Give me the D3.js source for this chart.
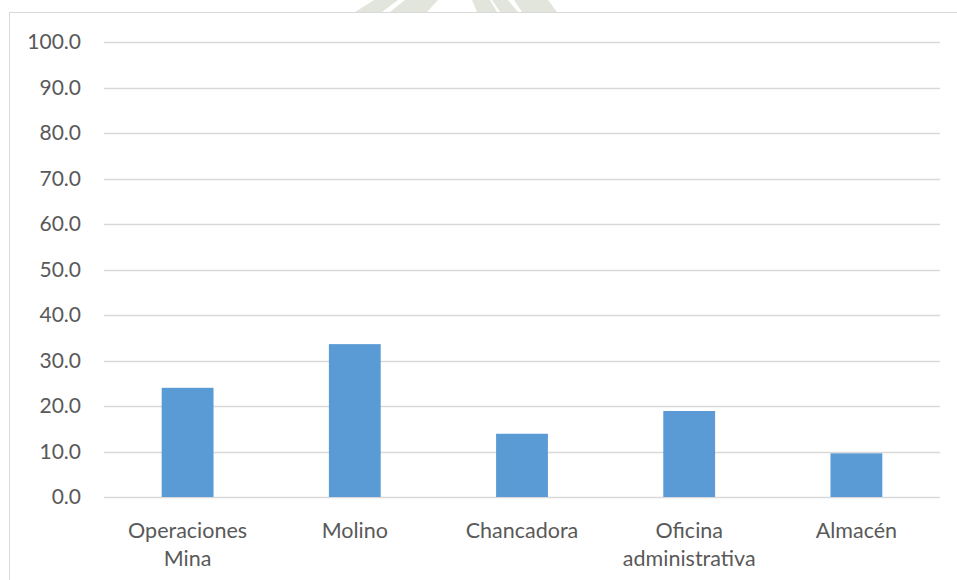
<!DOCTYPE html>
<html>
<head>
<meta charset="utf-8">
<script src="https://cdn.jsdelivr.net/npm/d3@7"></script>
<style>
  html, body { margin: 0; padding: 0; background: #fff; }
  svg { display: block; }
</style>
</head>
<body>
<svg id="chart" width="957" height="580"></svg>
<script>
// Share of incidents by work area (%)
const categories = [["Operaciones", "Mina"], ["Molino"], ["Chancadora"], ["Oficina", "administrativa"], ["Almacén"]];
const values = [24.0, 33.6, 13.9, 18.9, 9.6];
const yTicks = [0, 10, 20, 30, 40, 50, 60, 70, 80, 90, 100];

const svg = d3.select("#chart");
const W = 957, H = 580;
const margin = { left: 104, right: 17, top: 42, bottom: 83 };
const font = "Lato, 'Open Sans', sans-serif";
const textColor = "#595959";

// faint emblem behind the top edge of the frame
const emblem = svg.append("g").attr("fill", "#e2e5dc");
[
  [[355, 12], [382, 12], [398, 0], [374, 0]],
  [[390, 12], [427, 12], [438, 0], [405, 0]],
  [[477, 12], [497, 12], [490, 0], [472, 0]],
  [[500, 12], [518, 12], [508, 0], [492, 0]],
  [[522, 12], [557, 12], [548, 0], [514, 0]]
].forEach(p => emblem.append("polygon").attr("points", p.map(q => q.join(",")).join(" ")));

// chart frame
svg.append("rect")
  .attr("x", 9.5).attr("y", 12.5)
  .attr("width", W).attr("height", H)
  .attr("fill", "#fff")
  .attr("stroke", "#d9d9d9").attr("stroke-width", 1);

const x = d3.scaleBand()
  .domain(d3.range(categories.length))
  .range([margin.left, W - margin.right])
  .paddingInner(0.69).paddingOuter(0.345);

const y = d3.scaleLinear()
  .domain([0, 100])
  .range([H - margin.bottom, margin.top]);

// horizontal gridlines
svg.append("g")
  .selectAll("line")
  .data(yTicks)
  .join("line")
  .attr("x1", margin.left).attr("x2", W - margin.right)
  .attr("y1", d => Math.round(y(d)) + 0.5).attr("y2", d => Math.round(y(d)) + 0.5)
  .attr("stroke", "#d9d9d9").attr("stroke-width", 1.5);

// y axis labels
const yAxis = d3.axisLeft(y).tickValues(yTicks).tickFormat(d3.format(".1f")).tickSize(0).tickPadding(23);
const gy = svg.append("g").attr("transform", `translate(${margin.left},0)`).call(yAxis);
gy.select(".domain").remove();
gy.selectAll("text")
  .attr("fill", textColor)
  .style("font-family", font)
  .style("font-size", "21px");

// bars
svg.append("g")
  .selectAll("rect")
  .data(values)
  .join("rect")
  .attr("x", (d, i) => x(i))
  .attr("width", x.bandwidth())
  .attr("y", d => y(d))
  .attr("height", d => y(0) - y(d))
  .attr("fill", "#5b9bd5");

// category labels
const xAxis = d3.axisBottom(x).tickSize(0).tickFormat("");
const gx = svg.append("g").attr("transform", `translate(0,${y(0)})`).call(xAxis);
gx.select(".domain").remove();
gx.selectAll(".tick").each(function (i) {
  const t = d3.select(this).append("text")
    .attr("text-anchor", "middle")
    .attr("fill", textColor)
    .style("font-family", font)
    .style("font-size", "21.5px");
  categories[i].forEach((line, k) => {
    t.append("tspan").attr("x", 0).attr("y", 41 + k * 28).text(line);
  });
});
</script>
</body>
</html>
